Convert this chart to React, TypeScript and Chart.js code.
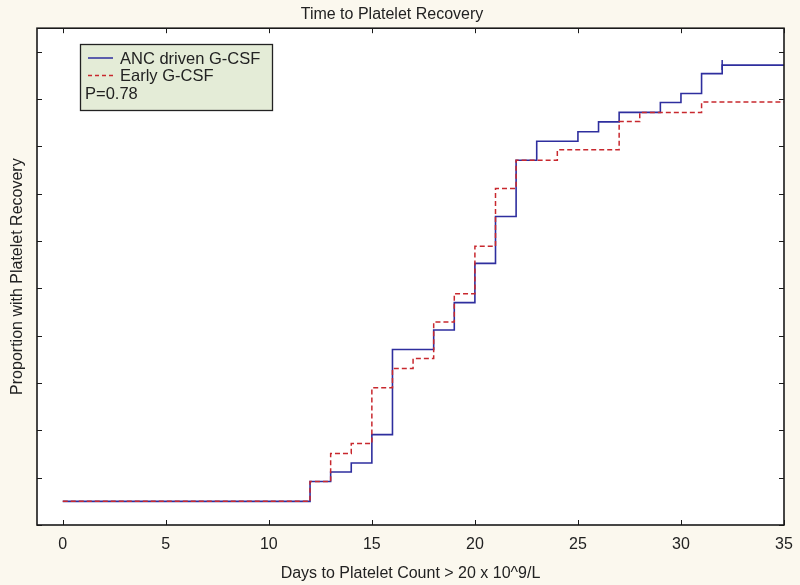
import React, { useEffect, useRef } from 'react';
import { Chart, registerables } from 'chart.js';

Chart.register(...registerables);

// ---- data ----
const DAYS_ANC = [0, 12, 13, 14, 15, 16, 18, 19, 20, 21, 22, 23, 25, 26, 27, 29, 30, 31, 32, 35];
const PROP_ANC = [0, 0.042, 0.062, 0.081, 0.141, 0.321, 0.362, 0.42, 0.503, 0.602, 0.721, 0.761, 0.781, 0.802, 0.822, 0.843, 0.862, 0.904, 0.922, 0.922];
const DAYS_EARLY = [0, 12, 13, 14, 15, 16, 17, 18, 19, 20, 21, 22, 24, 27, 28, 31, 35];
const PROP_EARLY = [0, 0.042, 0.101, 0.122, 0.24, 0.281, 0.302, 0.379, 0.439, 0.539, 0.661, 0.721, 0.743, 0.803, 0.822, 0.844, 0.844];
const CENSOR_DAYS = [32];
const CENSOR_PROP = [0.922];
const X_TICKS = [0, 5, 10, 15, 20, 25, 30, 35];
const Y_TICKS = [-0.05, 0.05, 0.15, 0.25, 0.35, 0.45, 0.55, 0.65, 0.75, 0.85, 0.95];
const SERIES_LABELS = ['ANC driven G-CSF', 'Early G-CSF'];
const P_TEXT = 'P=0.78';
const TITLE = 'Time to Platelet Recovery';
const X_TITLE = 'Days to Platelet Count > 20 x 10^9/L';
const Y_TITLE = 'Proportion with Platelet Recovery';

// ---- style ----
const FAMILY = '"Liberation Sans", Arial, sans-serif';
const FONT_SIZE = 16;
const BG = '#FBF8EE';
const BLUE = '#2E2E9E';
const RED = '#C8282E';
const TEXT = '#222222';

const decorPlugin = {
  id: 'decor',
  beforeDraw(chart: any) {
    const { ctx, chartArea } = chart;
    const { left, top, right, bottom } = chartArea;
    ctx.save();
    ctx.fillStyle = BG;
    ctx.fillRect(0, 0, chart.width, chart.height);
    ctx.fillStyle = '#ffffff';
    ctx.fillRect(left, top, right - left, bottom - top);
    ctx.restore();
  },
  afterDatasetsDraw(chart: any) {
    const { ctx, chartArea, scales } = chart;
    const { left, top, right, bottom } = chartArea;
    ctx.save();
    ctx.strokeStyle = '#1a1a1a';
    ctx.lineWidth = 1;
    const tl = 5;
    ctx.beginPath();
    X_TICKS.forEach((v) => {
      const x = Math.round(scales.x.getPixelForValue(v)) + 0.5;
      ctx.moveTo(x, bottom);
      ctx.lineTo(x, bottom - tl);
      ctx.moveTo(x, top);
      ctx.lineTo(x, top + tl);
    });
    Y_TICKS.forEach((v) => {
      const y = Math.round(scales.y.getPixelForValue(v)) + 0.5;
      ctx.moveTo(left, y);
      ctx.lineTo(left + tl, y);
      ctx.moveTo(right, y);
      ctx.lineTo(right - tl, y);
    });
    ctx.stroke();
    ctx.lineWidth = 1.6;
    ctx.strokeRect(left, top, right - left, bottom - top);
    ctx.restore();
  },
  afterDraw(chart: any) {
    const { ctx } = chart;
    const bx = 80, by = 44, bw = 192, bh = 66;
    ctx.save();
    ctx.fillStyle = '#E4ECD7';
    ctx.fillRect(bx, by, bw, bh);
    ctx.strokeStyle = '#222';
    ctx.lineWidth = 1.3;
    ctx.strokeRect(bx + 0.5, by + 0.5, bw, bh);
    ctx.font = `${FONT_SIZE + 0.5}px ${FAMILY}`;
    ctx.fillStyle = TEXT;
    ctx.textBaseline = 'middle';
    ctx.textAlign = 'left';
    const rows = [58, 75.5, 93];
    ctx.strokeStyle = BLUE;
    ctx.lineWidth = 1.5;
    ctx.setLineDash([]);
    ctx.beginPath();
    ctx.moveTo(88, rows[0]);
    ctx.lineTo(113, rows[0]);
    ctx.stroke();
    ctx.fillText(SERIES_LABELS[0], 120, rows[0] + 1);
    ctx.strokeStyle = RED;
    ctx.setLineDash([4, 3]);
    ctx.beginPath();
    ctx.moveTo(88, rows[1]);
    ctx.lineTo(113, rows[1]);
    ctx.stroke();
    ctx.setLineDash([]);
    ctx.fillText(SERIES_LABELS[1], 120, rows[1] + 1);
    ctx.fillText(P_TEXT, 85, rows[2] + 1);
    ctx.restore();
  },
};

export default function App() {
  const ref = useRef<HTMLCanvasElement | null>(null);
  useEffect(() => {
    document.body.style.margin = '0';
    const canvas = ref.current;
    if (!canvas) return;
    const anc = DAYS_ANC.map((d, i) => ({ x: d, y: PROP_ANC[i] }));
    const early = DAYS_EARLY.map((d, i) => ({ x: d, y: PROP_EARLY[i] }));
    const cens = CENSOR_DAYS.map((d, i) => ({ x: d, y: CENSOR_PROP[i] }));
    const font = { family: FAMILY, size: FONT_SIZE };
    const chart = new Chart(canvas, {
      type: 'line',
      data: {
        datasets: [
          {
            label: SERIES_LABELS[1],
            data: early,
            borderColor: RED,
            borderWidth: 1.5,
            borderDash: [5, 3],
            stepped: 'before',
            pointRadius: 0,
            fill: false,
            order: 0,
          },
          {
            label: SERIES_LABELS[0],
            data: anc,
            borderColor: BLUE,
            borderWidth: 1.6,
            stepped: 'before',
            pointRadius: 0,
            fill: false,
            order: 1,
          },
          {
            type: 'scatter',
            label: 'censored',
            data: cens,
            showLine: false,
            pointStyle: 'line',
            rotation: 90,
            pointRadius: 5,
            borderColor: BLUE,
            borderWidth: 1.5,
            order: 0,
          } as any,
        ],
      },
      options: {
        responsive: false,
        animation: false,
        layout: { padding: { left: 0, right: 16, top: 0, bottom: 0 } },
        plugins: {
          legend: { display: false },
          tooltip: { enabled: false },
          title: {
            display: true,
            text: TITLE,
            color: TEXT,
            font: { ...font, weight: 'normal' },
            padding: { top: 5, bottom: 4 },
          },
        },
        scales: {
          x: {
            type: 'linear',
            min: -1.25,
            max: 35,
            grid: { display: false, drawTicks: false },
            border: { display: false },
            afterBuildTicks: (s: any) => {
              s.ticks = X_TICKS.map((v) => ({ value: v }));
            },
            afterFit: (s: any) => {
              s.height = 60;
              s.paddingLeft = 0;
              s.paddingRight = 0;
            },
            ticks: {
              color: TEXT,
              font,
              padding: 10,
              maxRotation: 0,
              autoSkip: false,
            },
            title: {
              display: true,
              text: X_TITLE,
              color: TEXT,
              font,
              padding: { top: 2, bottom: 2 },
            },
          },
          y: {
            type: 'linear',
            min: -0.05,
            max: 1.0,
            grid: { display: false, drawTicks: false },
            border: { display: false },
            afterBuildTicks: (s: any) => {
              s.ticks = Y_TICKS.map((v) => ({ value: v }));
            },
            afterFit: (s: any) => {
              s.width = 37;
            },
            ticks: { display: false },
            title: {
              display: true,
              text: Y_TITLE,
              color: TEXT,
              font,
              padding: { top: 8, bottom: 2 },
            },
          },
        },
      },
      plugins: [decorPlugin],
    } as any);
    return () => chart.destroy();
  }, []);
  return (
    <div style={{ width: 800, height: 585 }}>
      <canvas ref={ref} width={800} height={585} style={{ display: 'block' }} />
    </div>
  );
}
